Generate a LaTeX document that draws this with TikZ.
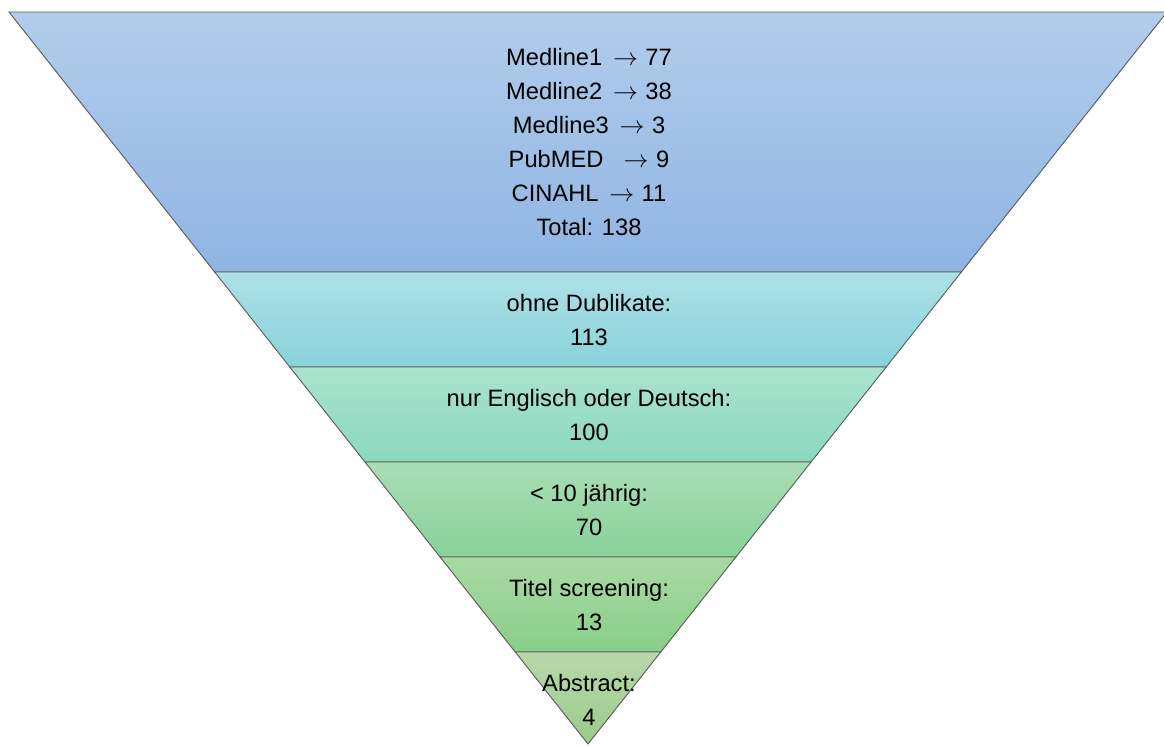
\documentclass[tikz,border=0pt]{standalone}
\usepackage{fontspec}
\setmainfont{Liberation Sans}
\definecolor{b1t}{HTML}{B2CDEB}\definecolor{b1b}{HTML}{8FB4E3}
\definecolor{b2t}{HTML}{AEE0E6}\definecolor{b2b}{HTML}{89D3DC}
\definecolor{b3t}{HTML}{AAE3CE}\definecolor{b3b}{HTML}{8AD8BE}
\definecolor{b4t}{HTML}{A9DDB5}\definecolor{b4b}{HTML}{89D29A}
\definecolor{b5t}{HTML}{A9D9A4}\definecolor{b5b}{HTML}{89CF88}
\definecolor{b6t}{HTML}{B9D8AA}\definecolor{b6b}{HTML}{9ACB8B}
\newcommand{\fband}[4]{%
  \pgfmathsetmacro\fha{(744-#1)/732*579}%
  \pgfmathsetmacro\fhb{(744-#2)/732*579}%
  \shade[top color=#3,bottom color=#4] (588-\fha,#1) -- (588+\fha,#1) -- (588+\fhb,#2) -- (588-\fhb,#2) -- cycle;
  \draw[bandline] (588-\fha,#1) -- (588+\fha,#1) -- (588+\fhb,#2) -- (588-\fhb,#2) -- cycle;
}
\newcommand{\arr}{\hspace{0.45em}$\rightarrow$\hspace{0.32em}}
\begin{document}
\begin{tikzpicture}[x=1pt,y=-1pt,
  bandline/.style={draw=black!65,line width=0.9pt,line join=miter},
  lbl/.style={align=center,inner sep=0pt,font=\fontsize{23.7}{34}\selectfont,text=black}]
\useasboundingbox (0,0) rectangle (1164,745);
\fband{12}{272}{b1t}{b1b}
\fband{272}{367}{b2t}{b2b}
\fband{367}{462}{b3t}{b3b}
\fband{462}{557}{b4t}{b4b}
\fband{557}{652}{b5t}{b5b}
\fband{652}{744}{b6t}{b6b}
\node[lbl] (t1) at (589,142) {Medline1\arr 77\\Medline2\arr 38\\Medline3\arr 3\\PubMED\hspace{0.4em}\arr 9\\CINAHL\arr 11\\Total: 138};
\node[lbl] (t2) at (589,320) {ohne Dublikate:\\113};
\node[lbl] (t3) at (589,415) {nur Englisch oder Deutsch:\\100};
\node[lbl] (t4) at (589,510) {< 10 jährig:\\70};
\node[lbl] (t5) at (589,605) {Titel screening:\\13};
\node[lbl] (t6) at (589,700) {Abstract:\\4};
\end{tikzpicture}
\end{document}
